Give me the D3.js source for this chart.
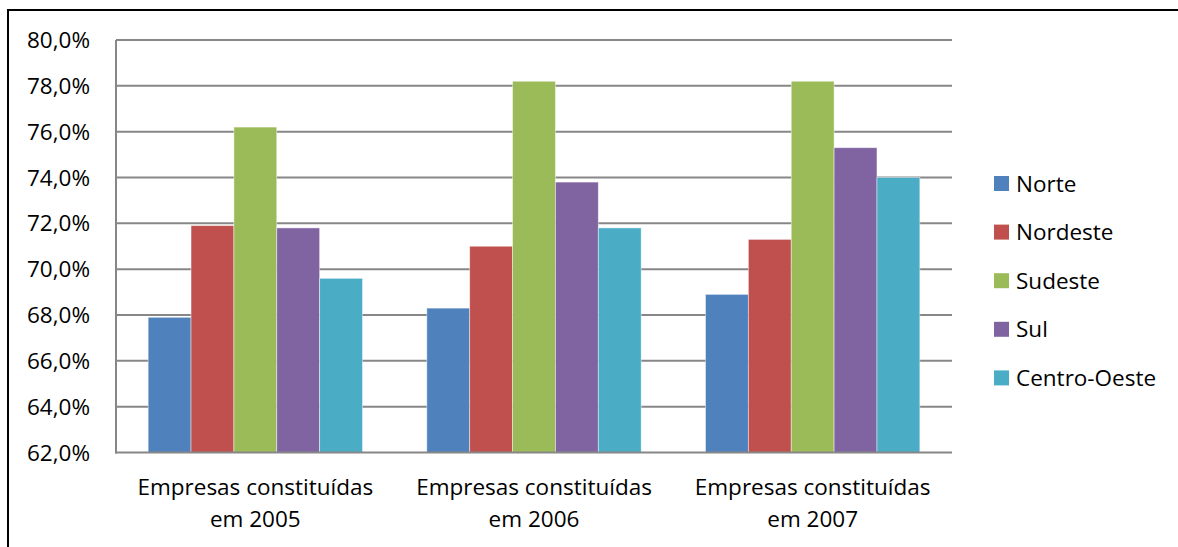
<!DOCTYPE html>
<html>
<head>
<meta charset="utf-8">
<script src="https://cdn.jsdelivr.net/npm/d3@7"></script>
<style>
  html, body { margin: 0; padding: 0; background: #fff; }
  svg { display: block; }
  text { font-family: "Open Sans", "Noto Sans", sans-serif; fill: #000; }
</style>
</head>
<body>
<svg id="chart" width="1178" height="547"></svg>
<script>
const categories = ["Empresas constituídas\nem 2005", "Empresas constituídas\nem 2006", "Empresas constituídas\nem 2007"];
const seriesNames = ["Norte", "Nordeste", "Sudeste", "Sul", "Centro-Oeste"];
const seriesColors = ["#4F81BD", "#C0504D", "#9BBB59", "#8064A2", "#4BACC6"];
const norte = [67.9, 68.3, 68.9];
const nordeste = [71.9, 71.0, 71.3];
const sudeste = [76.2, 78.2, 78.2];
const sul = [71.8, 73.8, 75.3];
const centroOeste = [69.6, 71.8, 74.0];
const yTicks = [62, 64, 66, 68, 70, 72, 74, 76, 78, 80];

const seriesValues = [norte, nordeste, sudeste, sul, centroOeste];

const svg = d3.select("#chart");
const plot = { left: 116, right: 952, top: 40, bottom: 452.5 };
const fontSize = 22.5;

// outer border
svg.append("path")
  .attr("d", "M8,549 L8,10 L1180,10")
  .attr("fill", "none")
  .attr("stroke", "#000")
  .attr("stroke-width", 2);

const y = d3.scaleLinear().domain([62, 80]).range([plot.bottom, plot.top]);
const x0 = d3.scaleBand().domain(d3.range(categories.length)).range([plot.left, plot.right]).paddingInner(0).paddingOuter(0);
// Excel gap width ~150%: bar = band / (n + 1.5)
const barW = x0.bandwidth() / (seriesNames.length + 1.5);
const x1 = d3.scaleBand().domain(d3.range(seriesNames.length))
  .range([barW * 0.75, barW * 0.75 + barW * seriesNames.length]);

// gridlines
svg.append("g").selectAll("line").data(yTicks.filter(t => t !== 62)).join("line")
  .attr("x1", plot.left).attr("x2", plot.right)
  .attr("y1", d => y(d)).attr("y2", d => y(d))
  .attr("stroke", "#878787").attr("stroke-width", 2);

// bars
const groups = svg.append("g").selectAll("g").data(categories).join("g")
  .attr("transform", (d, i) => `translate(${x0(i)},0)`);
groups.each(function(c, ci) {
  d3.select(this).selectAll("rect").data(seriesNames).join("rect")
    .attr("x", (s, si) => x1(si))
    .attr("width", x1.bandwidth())
    .attr("y", (s, si) => y(seriesValues[si][ci]))
    .attr("height", (s, si) => y(62) - y(seriesValues[si][ci]))
    .attr("fill", (s, si) => seriesColors[si])
    .attr("stroke", "rgba(255,255,255,0.55)")
    .attr("stroke-width", 0.8);
});

// axes lines
svg.append("line").attr("x1", plot.left).attr("x2", plot.left)
  .attr("y1", plot.top).attr("y2", plot.bottom + 1)
  .attr("stroke", "#878787").attr("stroke-width", 2);
svg.append("line").attr("x1", plot.left - 1).attr("x2", plot.right)
  .attr("y1", plot.bottom).attr("y2", plot.bottom)
  .attr("stroke", "#878787").attr("stroke-width", 2);

// y tick labels
const fmt = v => v.toFixed(1).replace(".", ",") + "%";
svg.append("g").selectAll("text").data(yTicks).join("text")
  .attr("x", 90)
  .attr("y", d => y(d))
  .attr("dy", "0.36em")
  .attr("text-anchor", "end")
  .style("font-size", fontSize + "px")
  .text(fmt);

// x category labels
svg.append("g").selectAll("text").data(categories).join("text")
  .attr("text-anchor", "middle")
  .style("font-size", fontSize + "px")
  .each(function(d, i) {
    const lines = d.split("\n");
    const cx = x0(i) + x0.bandwidth() / 2;
    d3.select(this).selectAll("tspan").data(lines).join("tspan")
      .attr("x", cx)
      .attr("y", (l, li) => 495 + li * 32)
      .text(l => l);
  });

// legend
const legend = svg.append("g").selectAll("g").data(seriesNames).join("g")
  .attr("transform", (d, i) => `translate(994,${183.5 + i * 48.6})`);
legend.append("rect")
  .attr("x", 0).attr("y", -7.5).attr("width", 15).attr("height", 15)
  .attr("fill", (d, i) => seriesColors[i]);
legend.append("text")
  .attr("x", 22).attr("y", 0).attr("dy", "0.36em")
  .style("font-size", fontSize + "px")
  .text(d => d);
</script>
</body>
</html>
